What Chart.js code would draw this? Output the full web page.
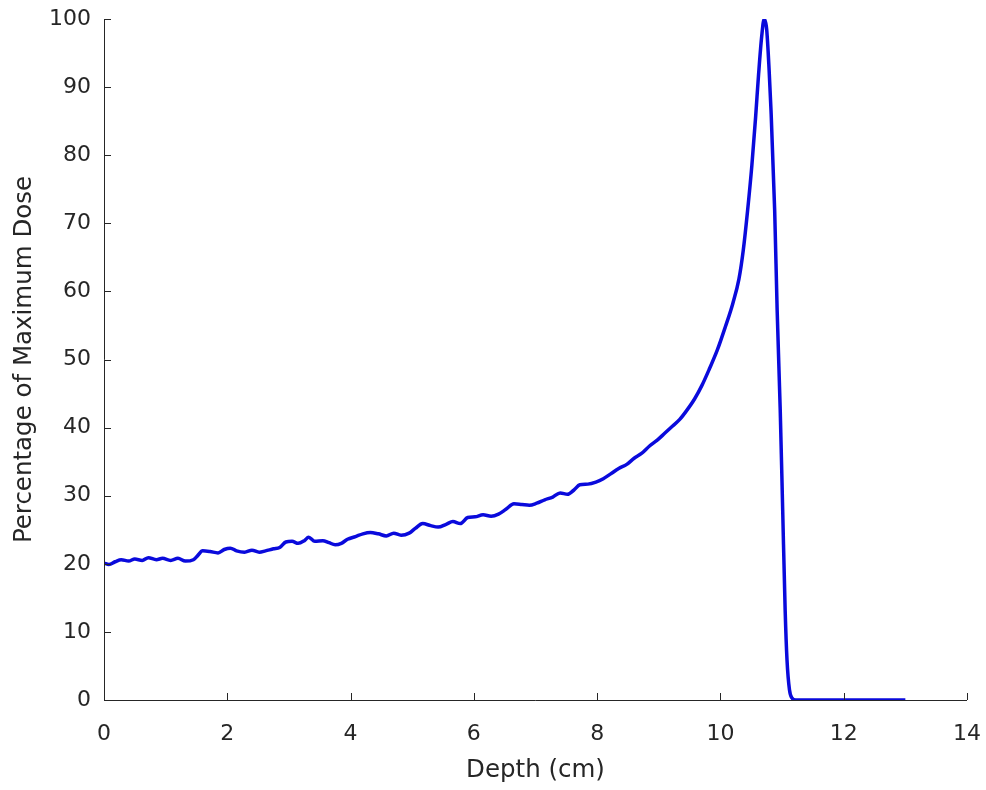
<!DOCTYPE html>
<html>
<head>
<meta charset="utf-8">
<script src="https://cdn.jsdelivr.net/npm/chart.js@4"></script>
<style>
  html, body { margin: 0; padding: 0; background: #fff; }
  canvas { display: block; }
</style>
</head>
<body>
<canvas id="ddChart" width="986" height="790"></canvas>
<script>
// ─── Data ───
const depthCm = [
  0.00, 0.08, 0.18, 0.28, 0.40, 0.50, 0.62, 0.72, 0.85, 0.95,
  1.08, 1.20, 1.32, 1.45, 1.52, 1.60, 1.72, 1.85, 1.95, 2.05,
  2.15, 2.28, 2.40, 2.52, 2.62, 2.75, 2.85, 2.95, 3.05, 3.15,
  3.25, 3.32, 3.42, 3.55, 3.65, 3.75, 3.85, 3.95, 4.08, 4.20,
  4.32, 4.45, 4.58, 4.70, 4.82, 4.95, 5.05, 5.17, 5.30, 5.42,
  5.55, 5.66, 5.78, 5.90, 6.02, 6.15, 6.28, 6.40, 6.52, 6.65,
  6.78, 6.90, 7.02, 7.15, 7.28, 7.40, 7.52, 7.62, 7.72, 7.85,
  7.98, 8.10, 8.22, 8.35, 8.48, 8.60, 8.72, 8.85, 8.98, 9.10,
  9.22, 9.34, 9.46, 9.58, 9.70, 9.82, 9.95, 10.08, 10.20, 10.30,
  10.37, 10.44, 10.51, 10.57, 10.62, 10.67, 10.71, 10.75, 10.79, 10.82,
  10.88, 10.92, 10.97, 11.01, 11.05, 11.08, 11.12, 11.16, 11.22, 12.00,
  13.00
];
const dosePct = [
  20.1, 19.9, 20.3, 20.6, 20.4, 20.7, 20.5, 20.9, 20.6, 20.8,
  20.5, 20.8, 20.4, 20.6, 21.2, 21.9, 21.8, 21.6, 22.1, 22.3,
  21.9, 21.7, 22.0, 21.7, 21.9, 22.2, 22.4, 23.2, 23.3, 23.0,
  23.4, 23.9, 23.3, 23.4, 23.1, 22.8, 23.0, 23.6, 24.0, 24.4,
  24.6, 24.4, 24.1, 24.5, 24.2, 24.5, 25.2, 25.9, 25.6, 25.4,
  25.8, 26.2, 25.9, 26.8, 26.9, 27.2, 27.0, 27.3, 28.0, 28.8,
  28.7, 28.6, 28.9, 29.4, 29.8, 30.4, 30.2, 30.8, 31.6, 31.7,
  32.0, 32.5, 33.2, 34.0, 34.6, 35.5, 36.2, 37.3, 38.2, 39.2,
  40.2, 41.2, 42.6, 44.2, 46.2, 48.6, 51.4, 54.8, 58.2, 61.8,
  66.0, 71.8, 78.5, 85.5, 92.0, 97.5, 100.0, 98.5, 92.5, 86.7,
  71.9, 57.3, 42.6, 27.9, 13.2, 5.9, 1.5, 0.3, 0.0, 0.0,
  0.0
];
const xTicks = [0, 2, 4, 6, 8, 10, 12, 14];
const yTicks = [0, 10, 20, 30, 40, 50, 60, 70, 80, 90, 100];

const axisColor = '#262626';
const fontFamily = '"DejaVu Sans", "Liberation Sans", Arial, sans-serif';

// MATLAB-ish axes: left + bottom lines with ticks pointing inward
const matlabAxes = {
    id: 'matlabAxes',
    afterDraw(chart) {
        const { ctx, chartArea: a, scales: { x, y } } = chart;
        const tickLen = 7;
        ctx.save();
        ctx.strokeStyle = axisColor;
        ctx.lineWidth = 1;
        ctx.beginPath();
        ctx.moveTo(a.left + 0.5, a.top);
        ctx.lineTo(a.left + 0.5, a.bottom + 0.5);
        ctx.lineTo(a.right, a.bottom + 0.5);
        xTicks.forEach(v => {
            const px = Math.round(x.getPixelForValue(v)) + 0.5;
            ctx.moveTo(px, a.bottom);
            ctx.lineTo(px, a.bottom - tickLen);
        });
        yTicks.forEach(v => {
            const py = Math.round(y.getPixelForValue(v)) + 0.5;
            ctx.moveTo(a.left, py);
            ctx.lineTo(a.left + tickLen, py);
        });
        ctx.stroke();
        ctx.restore();
    }
};

new Chart(document.getElementById('ddChart').getContext('2d'), {
    type: 'line',
    data: {
        datasets: [{
            data: depthCm.map((d, i) => ({ x: d, y: dosePct[i] })),
            borderColor: '#0a0adc',
            borderWidth: 3.5,
            pointRadius: 0,
            fill: false,
            cubicInterpolationMode: 'monotone'
        }]
    },
    options: {
        responsive: false,
        animation: false,
        layout: { padding: { top: 19, right: 19, left: 0, bottom: 0 } },
        plugins: { legend: { display: false }, tooltip: { enabled: false } },
        scales: {
            x: {
                type: 'linear',
                min: 0,
                max: 14,
                afterBuildTicks: s => { s.ticks = xTicks.map(v => ({ value: v })); },
                afterFit: s => { s.height = 90; s.paddingLeft = 0; s.paddingRight = 0; },
                grid: { display: false, drawTicks: false },
                border: { display: false },
                ticks: {
                    padding: 21,
                    color: axisColor,
                    font: { family: fontFamily, size: 22 },
                    maxRotation: 0
                },
                title: {
                    display: true,
                    text: 'Depth (cm)',
                    color: axisColor,
                    font: { family: fontFamily, size: 24.5 },
                    padding: { top: 0, bottom: 5 }
                }
            },
            y: {
                min: 0,
                max: 100,
                afterBuildTicks: s => { s.ticks = yTicks.map(v => ({ value: v })); },
                afterFit: s => { s.width = 104; s.paddingTop = 0; s.paddingBottom = 0; },
                grid: { display: false, drawTicks: false },
                border: { display: false },
                ticks: {
                    padding: 13,
                    color: axisColor,
                    font: { family: fontFamily, size: 22 }
                },
                title: {
                    display: true,
                    text: 'Percentage of Maximum Dose',
                    color: axisColor,
                    font: { family: fontFamily, size: 24.5 },
                    padding: { top: 10, bottom: 0 }
                }
            }
        }
    },
    plugins: [matlabAxes]
});
</script>
</body>
</html>
